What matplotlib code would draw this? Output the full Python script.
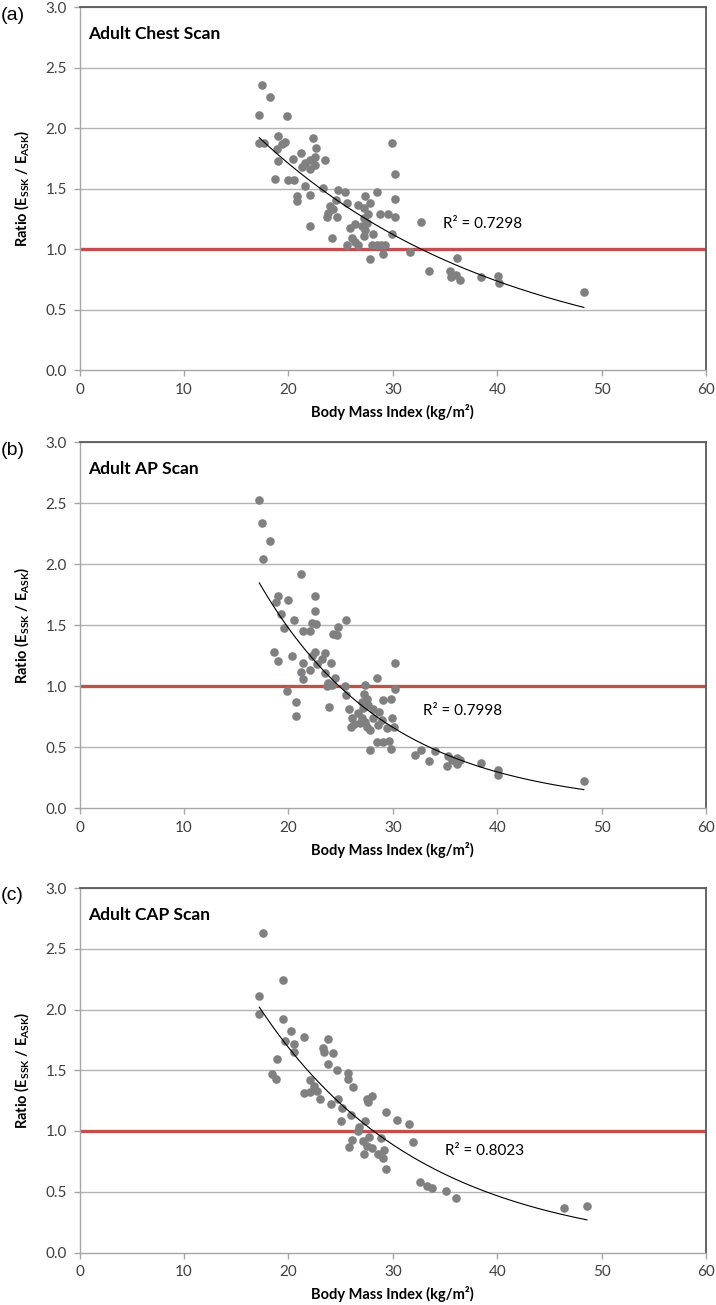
import numpy as np
import matplotlib
matplotlib.use("Agg")
import matplotlib.pyplot as plt

plt.rcParams['font.family'] = ['Lato', 'DejaVu Sans']
plt.rcParams['mathtext.fontset'] = 'custom'
plt.rcParams['mathtext.rm'] = 'Lato'
plt.rcParams['mathtext.bf'] = 'Lato:bold'
plt.rcParams['mathtext.it'] = 'Lato:italic'

# ---------------- data ----------------
chest_bmi = [17.48, 18.28, 17.22, 19.90, 17.22, 17.67, 19.05, 19.68, 19.36, 18.89,
             22.37, 22.65, 21.19, 20.42, 19.05, 23.55, 22.56, 22.08, 21.60, 21.28,
             22.08, 22.56, 18.73, 20.00, 20.58, 21.63, 23.36, 24.79, 25.43, 22.08,
             20.80, 20.80, 28.47, 29.90, 30.22, 30.22, 27.35, 26.70, 27.83, 27.20,
             25.60, 24.00, 24.60, 23.83, 24.30, 23.68, 24.70, 22.08, 28.78, 29.50,
             30.22, 27.67, 27.20, 27.50, 27.03, 27.35, 27.20, 25.90, 26.40, 28.14,
             29.90, 24.20, 26.07, 26.40, 25.60, 26.70, 28.00, 28.50, 28.90, 29.30,
             29.04, 27.83, 31.66, 32.70, 33.50, 36.20, 35.50, 35.55, 36.45, 36.10,
             38.46, 40.10, 40.20, 48.30]
chest_ratio = [2.36, 2.26, 2.11, 2.10, 1.88, 1.88, 1.94, 1.89, 1.87, 1.83,
               1.92, 1.84, 1.80, 1.75, 1.73, 1.74, 1.76, 1.74, 1.71, 1.68,
               1.66, 1.70, 1.58, 1.57, 1.57, 1.52, 1.51, 1.49, 1.47, 1.45,
               1.44, 1.40, 1.47, 1.88, 1.62, 1.42, 1.44, 1.37, 1.38, 1.34,
               1.38, 1.36, 1.41, 1.30, 1.33, 1.27, 1.27, 1.19, 1.29, 1.29,
               1.27, 1.29, 1.26, 1.22, 1.19, 1.16, 1.11, 1.18, 1.21, 1.13,
               1.13, 1.09, 1.09, 1.06, 1.04, 1.04, 1.04, 1.04, 1.04, 1.04,
               0.96, 0.92, 0.98, 1.23, 0.82, 0.93, 0.82, 0.77, 0.75, 0.79,
               0.77, 0.78, 0.72, 0.65]

ap_bmi = [17.22, 17.45, 18.28, 17.60, 21.19, 18.98, 18.82, 20.00, 22.56, 19.30,
          22.60, 20.58, 22.24, 22.65, 19.62, 21.44, 22.08, 25.56, 24.79, 24.30,
          24.63, 18.66, 19.05, 20.38, 22.56, 22.24, 23.50, 23.20, 22.70, 21.37,
          22.08, 21.20, 21.37, 24.10, 23.50, 24.47, 23.83, 23.67, 24.15, 19.90,
          20.74, 20.74, 23.93, 25.43, 25.52, 25.80, 27.35, 27.20, 27.57, 27.03,
          27.67, 27.13, 28.14, 28.72, 26.70, 26.07, 26.30, 25.97, 27.03, 27.35,
          26.87, 27.50, 27.83, 28.14, 28.95, 29.43, 28.62, 28.47, 30.20, 30.20,
          29.10, 29.84, 29.90, 30.15, 28.47, 29.04, 29.67, 27.83, 29.84, 32.14,
          32.68, 33.50, 34.05, 35.33, 36.13, 35.65, 36.45, 35.23, 36.20, 38.46,
          40.05, 40.10, 48.30]
ap_ratio = [2.53, 2.34, 2.19, 2.04, 1.92, 1.74, 1.69, 1.71, 1.74, 1.59,
            1.62, 1.54, 1.52, 1.51, 1.48, 1.45, 1.45, 1.54, 1.49, 1.43,
            1.42, 1.28, 1.21, 1.25, 1.28, 1.25, 1.27, 1.22, 1.18, 1.19,
            1.13, 1.12, 1.06, 1.19, 1.11, 1.07, 1.03, 1.00, 1.01, 0.96,
            0.87, 0.76, 0.83, 1.00, 0.93, 0.81, 1.01, 0.94, 0.90, 0.87,
            0.85, 0.82, 0.81, 0.79, 0.78, 0.74, 0.69, 0.67, 0.74, 0.71,
            0.70, 0.67, 0.64, 0.74, 0.72, 0.66, 0.68, 1.07, 1.19, 0.98,
            0.89, 0.90, 0.74, 0.67, 0.54, 0.54, 0.55, 0.48, 0.49, 0.44,
            0.48, 0.39, 0.47, 0.43, 0.41, 0.40, 0.40, 0.35, 0.36, 0.37,
            0.31, 0.27, 0.22]

cap_bmi = [17.55, 19.46, 17.22, 17.22, 19.46, 20.26, 21.50, 23.83, 20.58, 19.68,
           20.58, 23.30, 23.45, 24.30, 18.89, 23.77, 24.70, 18.40, 18.79, 25.75,
           25.75, 26.23, 22.08, 22.46, 22.78, 21.50, 22.08, 23.00, 24.79, 24.09,
           25.10, 27.50, 27.98, 27.66, 29.36, 25.97, 25.05, 27.35, 30.44, 31.60,
           26.80, 26.70, 31.97, 26.07, 25.84, 27.12, 27.76, 27.50, 27.98, 27.28,
           28.85, 28.62, 29.16, 29.10, 29.36, 32.60, 33.25, 33.73, 35.10, 36.10,
           46.40, 48.60]
cap_ratio = [2.63, 2.24, 2.11, 1.96, 1.92, 1.82, 1.77, 1.76, 1.72, 1.74,
             1.65, 1.68, 1.65, 1.64, 1.59, 1.55, 1.50, 1.47, 1.43, 1.48,
             1.43, 1.36, 1.42, 1.37, 1.33, 1.31, 1.32, 1.26, 1.26, 1.22,
             1.19, 1.26, 1.29, 1.24, 1.16, 1.13, 1.08, 1.08, 1.09, 1.06,
             1.03, 1.00, 0.91, 0.93, 0.87, 0.92, 0.95, 0.88, 0.86, 0.81,
             0.94, 0.81, 0.84, 0.78, 0.69, 0.58, 0.55, 0.53, 0.51, 0.45,
             0.37, 0.38]

panel_letters = ["(a)", "(b)", "(c)"]
panel_titles = ["Adult Chest Scan", "Adult AP Scan", "Adult CAP Scan"]
r2_labels = ["R² = 0.7298", "R² = 0.7998", "R² = 0.8023"]
r2_pos = [(34.8, 1.21), (32.9, 0.80), (35.0, 0.835)]
reference_ratio = 1.0
x_ticks = [0, 10, 20, 30, 40, 50, 60]
y_ticks = [0.0, 0.5, 1.0, 1.5, 2.0, 2.5, 3.0]

series = [(chest_bmi, chest_ratio), (ap_bmi, ap_ratio), (cap_bmi, cap_ratio)]

# ---------------- layout ----------------
W, H = 716, 1305
fig = plt.figure(figsize=(W / 100, H / 100), dpi=100)
axes_px = [(79.5, 706, 7.3, 370.4), (79.5, 706, 442.3, 808.3), (79.5, 706, 888.0, 1252.5)]

tick_col = '#404040'
grid_col = '#b3b3b3'

for i, (l, r, t, b) in enumerate(axes_px):
    ax = fig.add_axes([l / W, 1 - b / H, (r - l) / W, (b - t) / H])
    xs, ys = series[i]
    xs = np.asarray(xs); ys = np.asarray(ys)

    ax.set_xlim(0, 60)
    ax.set_ylim(0, 3.0)
    ax.set_xticks(x_ticks)
    ax.set_yticks(y_ticks)
    ax.set_xticklabels([str(v) for v in x_ticks])
    ax.set_yticklabels([f"{v:.1f}" for v in y_ticks])

    for yv in y_ticks[1:]:
        if yv != reference_ratio:
            ax.axhline(yv, color=grid_col, lw=1.0, zorder=0)

    ax.axhline(reference_ratio, color='#c0504d', lw=2.4, zorder=1)

    ax.plot(xs, ys, 'o', color='#808080', markersize=6.2, markeredgewidth=0, zorder=3)

    # exponential trendline (least squares on ln y, as a spreadsheet does)
    bcoef, lna = np.polyfit(xs, np.log(ys), 1)
    xt = np.linspace(xs.min(), xs.max(), 200)
    ax.plot(xt, np.exp(lna) * np.exp(bcoef * xt), color='black', lw=0.8, zorder=4)

    ax.text(r2_pos[i][0], r2_pos[i][1], r2_labels[i], fontsize=11, color='#000000',
            va='center', ha='left', zorder=5)
    ax.text(0.85, 2.78, panel_titles[i], fontsize=12.5, fontweight='bold',
            va='center', ha='left')

    for s in ['left', 'bottom']:
        ax.spines[s].set_color('#a6a6a6')
        ax.spines[s].set_linewidth(1.0)
    for s in ['top', 'right']:
        ax.spines[s].set_color('#595959')
        ax.spines[s].set_linewidth(1.3)
    ax.tick_params(axis='both', direction='out', length=4, width=1.0, color='#a6a6a6',
                   labelsize=11, labelcolor=tick_col)
    ax.tick_params(axis='x', pad=5)
    ax.tick_params(axis='y', pad=5)

    ax.set_xlabel("Body Mass Index (kg/m²)", fontsize=10.5, fontweight='bold', labelpad=5)

    cy = (t + b) / 2
    fig.text(22 / W, 1 - cy / H, r'Ratio (E$_{\mathbf{SSK}}$ / E$_{\mathbf{ASK}}$)',
             rotation=90, fontsize=10.5, fontweight='bold', ha='center', va='center')
    fig.text(1 / W, 1 - (t + 8) / H, panel_letters[i], fontsize=14,
             family=['Liberation Sans', 'DejaVu Sans'], ha='left', va='center')

fig.savefig("out.png", dpi=100)
